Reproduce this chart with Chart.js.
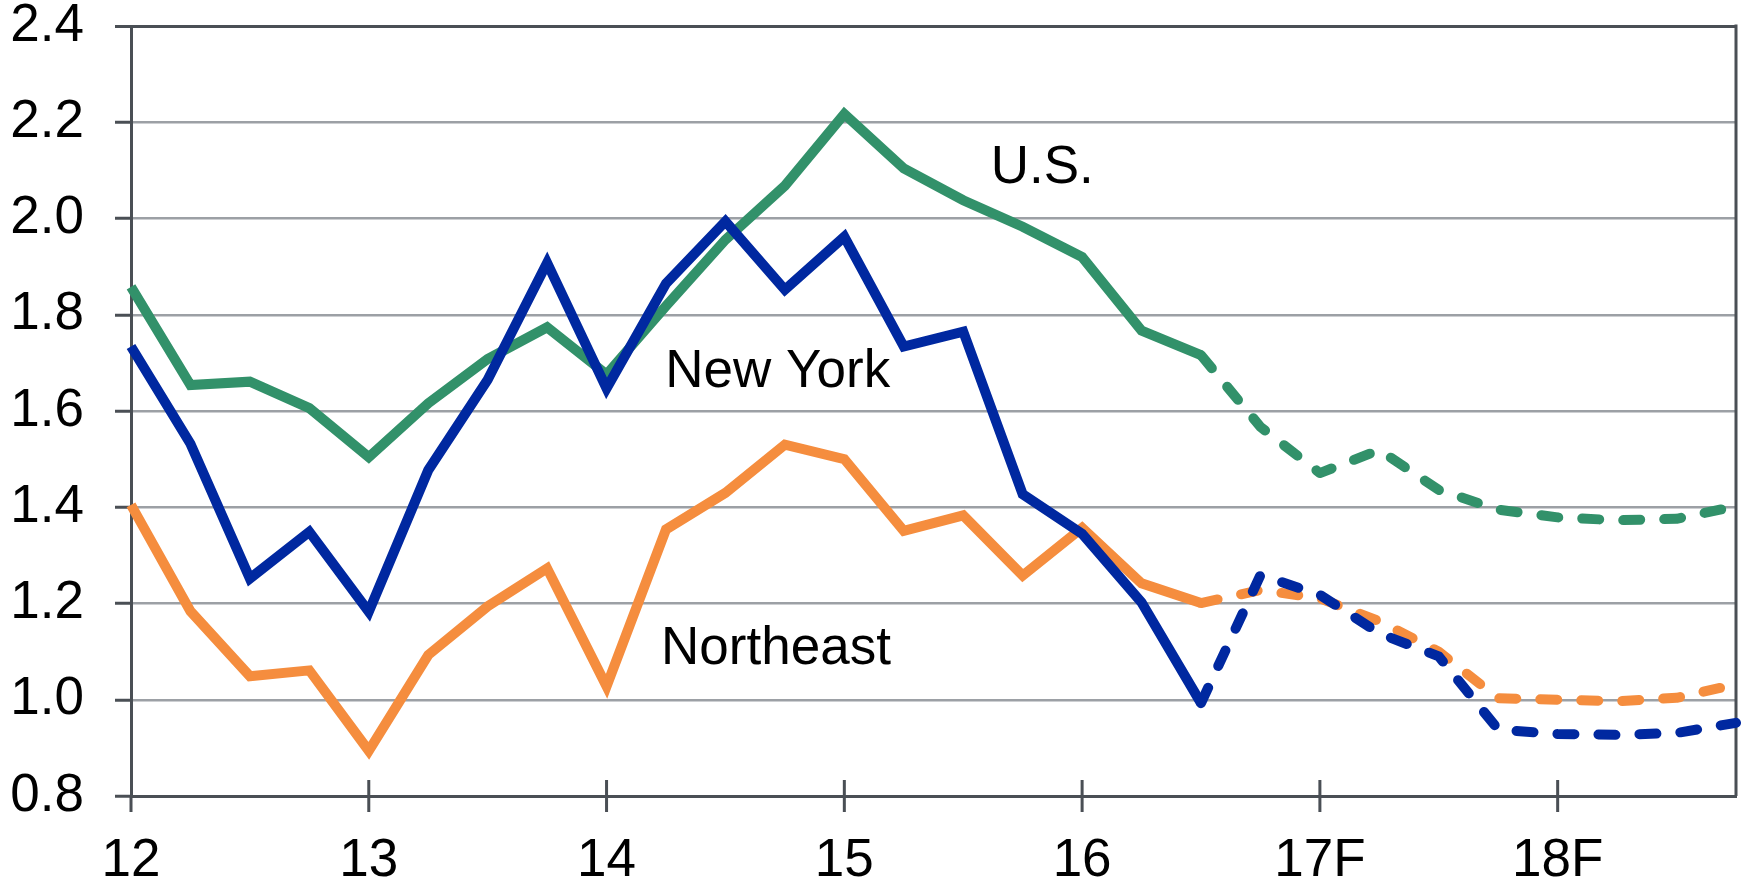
<!DOCTYPE html>
<html>
<head>
<meta charset="utf-8">
<script src="https://cdn.jsdelivr.net/npm/chart.js@4.4.1/dist/chart.umd.min.js"></script>
<style>
  html, body { margin: 0; padding: 0; background: #fff; }
  #wrap { width: 1743px; height: 885px; }
</style>
</head>
<body>
<div id="wrap"><canvas id="chart"></canvas></div>
<script>
// quarters, year label only on the first quarter
const quarters = [
  '12', '12q2', '12q3', '12q4',
  '13', '13q2', '13q3', '13q4',
  '14', '14q2', '14q3', '14q4',
  '15', '15q2', '15q3', '15q4',
  '16', '16q2', '16q3', '16q4',
  '17F', '17Fq2', '17Fq3', '17Fq4',
  '18F', '18Fq2', '18Fq3', '18Fq4'
];

const usValues = [1.858, 1.654, 1.661, 1.606, 1.504, 1.616, 1.708, 1.774,
                  1.676, 1.818, 1.956, 2.068, 2.217, 2.104, 2.038, 1.983,
                  1.920, 1.767, 1.716, 1.567, 1.471, 1.519, 1.436, 1.395,
                  1.379, 1.373, 1.376, 1.402];
const nyValues = [1.734, 1.532, 1.252, 1.349, 1.183, 1.477, 1.665, 1.908,
                  1.647, 1.865, 1.994, 1.852, 1.962, 1.734, 1.765, 1.427,
                  1.345, 1.202, 0.993, 1.259, 1.218, 1.138, 1.090, 0.938,
                  0.929, 0.927, 0.931, 0.952];
const neValues = [1.405, 1.184, 1.049, 1.061, 0.894, 1.093, 1.194, 1.273,
                  1.028, 1.354, 1.430, 1.530, 1.500, 1.351, 1.383, 1.258,
                  1.357, 1.242, 1.201, 1.228, 1.211, 1.163, 1.100, 1.003,
                  1.000, 0.997, 1.004, 1.032];
const forecastFrom = 18;   // 16Q3 onwards is dashed

const yMin = 0.8, yMax = 2.4, yStep = 0.2;

// series names written on the plot, anchored in data units
const seriesNotes = [
  { text: 'U.S.', at: 15.33, value: 2.105 },
  { text: 'New York', at: 10.88, value: 1.681 },
  { text: 'Northeast', at: 10.85, value: 1.104 }
];

const green = '#32916a';
const blue = '#0028a0';
const orange = '#f58d3e';
const axisColor = '#4a4f55';
const gridColor = '#9ca0a5';
const font = '"Liberation Sans", Arial, sans-serif';
const fontSize = 53;

function actualPart(vals) {
  return vals.map((v, i) => i <= forecastFrom ? v : null);
}
function forecastPart(vals) {
  return vals.map((v, i) => i >= forecastFrom ? v : null);
}

function solid(vals, color) {
  return {
    data: actualPart(vals), borderColor: color, borderWidth: 10,
    pointRadius: 0, tension: 0, borderJoinStyle: 'miter', fill: false
  };
}
function dashed(vals, color) {
  return {
    data: forecastPart(vals), borderColor: color, borderWidth: 10,
    pointRadius: 0, tension: 0, borderDash: [17, 24],
    borderCapStyle: 'round', borderJoinStyle: 'round', fill: false
  };
}

// right border, year ticks across the x axis, series names
const extras = {
  id: 'extras',
  beforeDatasetsDraw(chart) {
    const { ctx, chartArea: a, scales: { x } } = chart;
    ctx.save();
    ctx.strokeStyle = axisColor;
    ctx.lineWidth = 3;
    ctx.beginPath();
    ctx.moveTo(a.right, a.top - 1.5);
    ctx.lineTo(a.right, a.bottom);
    quarters.forEach((q, i) => {
      if (q.includes('q')) return;
      const px = x.getPixelForValue(i);
      ctx.moveTo(px, i === 0 ? a.bottom : a.bottom - 16);
      ctx.lineTo(px, a.bottom + 16);
    });
    ctx.stroke();
    ctx.restore();
  },
  afterDatasetsDraw(chart) {
    const { ctx, scales: { x, y } } = chart;
    ctx.save();
    ctx.fillStyle = '#000';
    ctx.font = fontSize + 'px ' + font;
    ctx.textAlign = 'center';
    ctx.textBaseline = 'middle';
    seriesNotes.forEach(n => {
      ctx.fillText(n.text, x.getPixelForValue(n.at), y.getPixelForValue(n.value));
    });
    ctx.restore();
  }
};

new Chart(document.getElementById('chart'), {
  type: 'line',
  data: {
    labels: quarters,
    datasets: [
      solid(nyValues, blue), dashed(nyValues, blue),
      solid(neValues, orange), dashed(neValues, orange),
      solid(usValues, green), dashed(usValues, green)
    ]
  },
  options: {
    responsive: true,
    maintainAspectRatio: false,
    animation: false,
    layout: { padding: { top: 26, right: 7, left: 0, bottom: 0 } },
    plugins: { legend: { display: false }, tooltip: { enabled: false } },
    scales: {
      x: {
        type: 'category',
        offset: false,
        grid: { display: false, drawTicks: false },
        border: { display: true, color: axisColor, width: 3 },
        ticks: {
          autoSkip: false, maxRotation: 0, padding: 34,
          color: '#000', font: { family: font, size: fontSize },
          callback: function (v, i) { return quarters[i].includes('q') ? '' : quarters[i]; }
        },
        afterFit: s => { s.height = 89; s.paddingLeft = 0; s.paddingRight = 0; }
      },
      y: {
        min: yMin, max: yMax,
        grid: {
          color: c => Math.abs(c.tick.value - yMax) < 1e-6 ? axisColor : gridColor,
          lineWidth: c => Math.abs(c.tick.value - yMax) < 1e-6 ? 3 : 2.5,
          tickLength: 16, tickColor: axisColor, tickWidth: 3
        },
        border: { display: true, color: axisColor, width: 3 },
        ticks: {
          stepSize: yStep, padding: 31,
          color: '#000', font: { family: font, size: fontSize },
          callback: v => v.toFixed(1)
        },
        afterFit: s => { s.width = 131; s.paddingTop = 0; s.paddingBottom = 0; }
      }
    }
  },
  plugins: [extras]
});
</script>
</body>
</html>
